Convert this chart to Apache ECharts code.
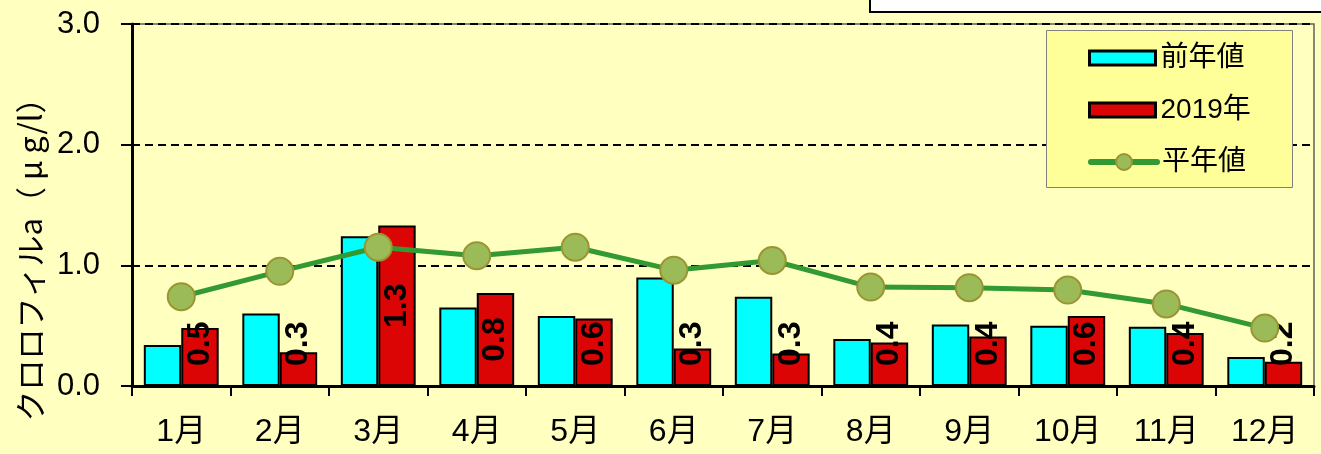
<!DOCTYPE html>
<html>
<head>
<meta charset="utf-8">
<script src="https://cdn.jsdelivr.net/npm/echarts@6/dist/echarts.min.js"></script>
<style>
  html, body { margin: 0; padding: 0; background: #FFFFC0; }
  #chart { width: 1321px; height: 454px; }
</style>
</head>
<body>
<div id="chart"></div>
<script>
// data
const months = ['1月', '2月', '3月', '4月', '5月', '6月', '7月', '8月', '9月', '10月', '11月', '12月'];
const prevYear = [0.34, 0.60, 1.24, 0.65, 0.58, 0.90, 0.74, 0.39, 0.51, 0.50, 0.49, 0.24];
const year2019 = [0.48, 0.28, 1.33, 0.77, 0.56, 0.31, 0.27, 0.36, 0.41, 0.58, 0.44, 0.20];
const normalYear = [0.74, 0.95, 1.15, 1.08, 1.15, 0.96, 1.04, 0.82, 0.815, 0.795, 0.68, 0.48];

const seriesNames = ['前年値', '2019年', '平年値'];
const yName = 'クロロフィルa（ μ g/l）';

const FONT = "'Liberation Sans', 'Noto Sans CJK JP', sans-serif";
const NARROW = "'Liberation Sans Narrow', 'Liberation Sans', sans-serif";

const chart = echarts.init(document.getElementById('chart'));

const barLabel = {
  show: true,
  position: 'inside',
  rotate: 90,
  color: '#000',
  fontFamily: NARROW,
  fontSize: 32,
  fontWeight: 'bold',
  formatter: (p) => p.value.toFixed(1)
};

// keep the label clear of the axis, like the original does for short bars.
// label is rotated 90deg, so its local x runs upward on screen
const clampLabel = (p) => {
  const limit = p.rect.y + p.rect.height - 20;
  const bottom = p.labelRect.y + p.labelRect.height;
  return bottom > limit ? { dx: bottom - limit } : {};
};

const legendText = { fontFamily: FONT, fontSize: 28, color: '#000', lineHeight: 30 };

const option = {
  backgroundColor: '#FFFFC0',
  animation: false,
  textStyle: { fontFamily: FONT },
  grid: {
    left: 132, right: 7, top: 24, bottom: 68,
    show: true,
    backgroundColor: 'transparent',
    borderColor: '#606060',
    borderWidth: 1.5
  },
  legend: [
    {
      orient: 'vertical',
      left: 1088,
      top: 43,
      padding: 0,
      itemGap: 22,
      itemWidth: 66,
      itemHeight: 14,
      textStyle: legendText,
      data: [
        { name: seriesNames[0], icon: 'rect', itemStyle: { borderWidth: 3 } },
        { name: seriesNames[1], icon: 'rect', itemStyle: { borderWidth: 3 } }
      ]
    },
    {
      orient: 'vertical',
      left: 1088,
      top: 147,
      padding: 0,
      itemWidth: 66,
      itemHeight: 20,
      textStyle: legendText,
      data: [
        { name: seriesNames[2], lineStyle: { width: 6, cap: 'round' } }
      ]
    }
  ],
  xAxis: {
    type: 'category',
    data: months,
    axisLine: { lineStyle: { color: '#000', width: 3 } },
    axisTick: { show: true, length: 10, lineStyle: { color: '#000', width: 2 } },
    axisLabel: { color: '#000', fontSize: 32, fontFamily: FONT, margin: 30 }
  },
  yAxis: {
    type: 'value',
    min: 0, max: 3, interval: 1,
    axisLine: { show: true, lineStyle: { color: '#000', width: 3 } },
    axisTick: { show: true, length: 11, lineStyle: { color: '#000', width: 2 } },
    axisLabel: {
      color: '#000', fontSize: 31, fontFamily: FONT, margin: 32,
      formatter: (v) => v.toFixed(1)
    },
    splitLine: { show: true, lineStyle: { color: '#000', width: 2, type: [8, 5] } }
  },
  graphic: [
    {
      type: 'rect',
      shape: { x: 870, y: -6, width: 470, height: 18 },
      style: { fill: '#fff', stroke: '#000', lineWidth: 2 },
      z: 10
    },
    {
      type: 'rect',
      shape: { x: 1046.5, y: 30.5, width: 246, height: 157 },
      style: { fill: '#FFFF99', stroke: '#808080', lineWidth: 1 },
      z: 3
    },
    {
      type: 'text',
      x: 30, y: 252,
      rotation: Math.PI / 2,
      style: {
        text: yName,
        font: "31px 'Noto Sans CJK JP', sans-serif",
        fill: '#000',
        align: 'center',
        verticalAlign: 'middle'
      }
    }
  ],
  series: [
    {
      name: seriesNames[0],
      type: 'bar',
      data: prevYear,
      barWidth: '38%',
      barGap: '0%',
      itemStyle: { color: '#00FFFF', borderColor: '#000', borderWidth: 2 },
      emphasis: { disabled: true }
    },
    {
      name: seriesNames[1],
      type: 'bar',
      data: year2019,
      barWidth: '38%',
      barGap: '0%',
      itemStyle: { color: '#DC0505', borderColor: '#000', borderWidth: 2 },
      label: barLabel,
      labelLayout: clampLabel,
      emphasis: { disabled: true }
    },
    {
      name: seriesNames[2],
      type: 'line',
      data: normalYear,
      symbol: 'circle',
      symbolSize: 27,
      lineStyle: { color: '#339933', width: 5 },
      itemStyle: { color: '#9BBB59', borderColor: '#9A9434', borderWidth: 2 },
      emphasis: { disabled: true },
      z: 2
    }
  ]
};

chart.setOption(option);
</script>
</body>
</html>
